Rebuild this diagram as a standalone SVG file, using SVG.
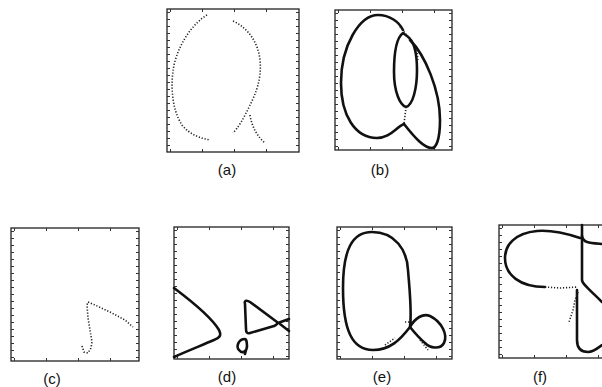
<svg xmlns="http://www.w3.org/2000/svg" width="602" height="387" viewBox="0 0 602 387">
<style>
.box{fill:none;stroke:#222;stroke-width:1.3}
.tv{stroke:#333;stroke-width:3;stroke-dasharray:1 6}
.th{stroke:#333;stroke-width:3;stroke-dasharray:1 31}
.cv{fill:none;stroke:#111;stroke-width:2.6;stroke-linejoin:round;stroke-linecap:round}
.dt{fill:none;stroke:#222;stroke-width:1.6;stroke-dasharray:1.2 1.8}
.lb{font-family:"Liberation Sans",Arial,sans-serif;font-size:15px;fill:#111;text-anchor:middle}
</style>
<rect width="602" height="387" fill="#fff"/>
<g id="panel-a">
<rect class="box" x="167" y="9" width="132" height="143"/>
<line class="tv" x1="168.5" y1="12" x2="168.5" y2="150"/>
<line class="tv" x1="297.5" y1="12" x2="297.5" y2="150"/>
<line class="th" x1="170" y1="10.5" x2="298" y2="10.5"/>
<line class="th" x1="170" y1="150.5" x2="298" y2="150.5"/>
<path class="dt" d="M207,15 C195,22 180,40 174,65 C170,85 172,110 182,125 C190,135 200,138 210,140"/>
<path class="dt" d="M233,21 C248,28 258,42 260,60 C262,80 255,95 250,105 C244,118 238,128 233,133"/>
<path class="dt" d="M250,115 C252,128 258,137 265,143"/>
<text class="lb" x="227" y="175">(a)</text>
</g>
<g id="panel-b">
<rect class="box" x="335" y="10" width="117" height="140"/>
<line class="tv" x1="336.5" y1="13" x2="336.5" y2="148"/>
<line class="tv" x1="450.5" y1="13" x2="450.5" y2="148"/>
<line class="th" x1="338" y1="11.5" x2="451" y2="11.5"/>
<line class="th" x1="338" y1="148.5" x2="451" y2="148.5"/>
<path class="cv" d="M404,124 C395,128 390,138 377,138 C355,138 341,115 341,83 C341,45 360,15 378,15 C390,15 399,22 403,30"/>
<path class="cv" d="M403,33 C396,38 394,52 394,72 C394,92 400,105 406,107 C413,105 417,88 417,70 C417,52 413,40 407,36 Z"/>
<path class="cv" d="M410,40 C425,55 440,90 440,120 C440,140 436,148 432,148 C424,148 415,138 404,124"/>
<path class="dt" d="M406,107 L405,116 L404,124"/>
<path class="dt" d="M400,27 L405,33 L410,39 M417,50 L418,62"/>
<text class="lb" x="380" y="175">(b)</text>
</g>
<g id="panel-c">
<rect class="box" x="11" y="228" width="128" height="133"/>
<line class="tv" x1="12.5" y1="231" x2="12.5" y2="359"/>
<line class="tv" x1="137.5" y1="231" x2="137.5" y2="359"/>
<line class="th" x1="14" y1="229.5" x2="138" y2="229.5"/>
<line class="th" x1="14" y1="359.5" x2="138" y2="359.5"/>
<path class="dt" d="M82,346 L84,352 L88,353 L91,348 L92,342 L90,330 L88,318 L87,305 L88,302 L95,305 L110,312 L125,320 L133,327"/>
<text class="lb" x="52" y="384">(c)</text>
</g>
<g id="panel-d">
<rect class="box" x="174" y="227" width="115" height="132"/>
<line class="tv" x1="175.5" y1="230" x2="175.5" y2="357"/>
<line class="tv" x1="287.5" y1="230" x2="287.5" y2="357"/>
<line class="th" x1="177" y1="228.5" x2="288" y2="228.5"/>
<line class="th" x1="177" y1="357.5" x2="288" y2="357.5"/>
<path class="cv" d="M174,288 C190,300 212,318 219,330 C222,336 219,338 214,340 C200,346 185,352 174,357"/>
<path class="cv" d="M245,304 C244,300 247,300 250,302 L277,322 C278,325 276,325 274,326 L250,333 C247,334 246,332 246,329 Z"/>
<path class="cv" d="M278,323 L289,319 M280,324 L289,331"/>
<path class="cv" d="M245,339 C238,339 236,347 239,350 C242,354 247,352 247,346 C247,342 246,339 245,339 Z M246,350 L245,354"/>
<text class="lb" x="227" y="382">(d)</text>
</g>
<g id="panel-e">
<rect class="box" x="337" y="227" width="115" height="132"/>
<line class="tv" x1="338.5" y1="230" x2="338.5" y2="357"/>
<line class="tv" x1="450.5" y1="230" x2="450.5" y2="357"/>
<line class="th" x1="340" y1="228.5" x2="451" y2="228.5"/>
<line class="th" x1="340" y1="357.5" x2="451" y2="357.5"/>
<path class="cv" d="M410,327 C400,340 390,350 373,350 C352,350 343,330 343,288 C343,250 352,232 372,232 C395,232 407,250 408,270 C410,295 412,312 410,327 Z"/>
<path class="cv" d="M410,327 C415,318 423,313 430,316 C442,322 448,335 444,343 C440,350 430,348 425,343 C418,337 414,332 410,327 Z"/>
<path class="dt" d="M385,345 L395,338 M420,340 L428,350 M405,322 L412,322"/>
<text class="lb" x="382" y="382">(e)</text>
</g>
<g id="panel-f">
<rect class="box" x="499" y="225" width="115" height="133"/>
<line class="tv" x1="500.5" y1="228" x2="500.5" y2="356"/>
<line class="th" x1="502" y1="226.5" x2="602" y2="226.5"/>
<line class="th" x1="502" y1="356.5" x2="602" y2="356.5"/>
<path class="cv" d="M580,238 C565,233 550,230 537,231 C515,233 505,245 505,258 C505,275 520,287 545,287"/>
<path class="cv" d="M582,225 L582,280 C582,284 590,290 602,302"/>
<path class="cv" d="M582,236 C583,243 590,243 602,244"/>
<path class="cv" d="M577,290 L577,340 C577,350 583,352 588,352 C593,352 598,348 602,345"/>
<path class="dt" d="M545,287 L560,288 L578,287 M578,292 L575,300 L573,310 L569,322"/>
<text class="lb" x="540" y="382">(f)</text>
</g>
</svg>
